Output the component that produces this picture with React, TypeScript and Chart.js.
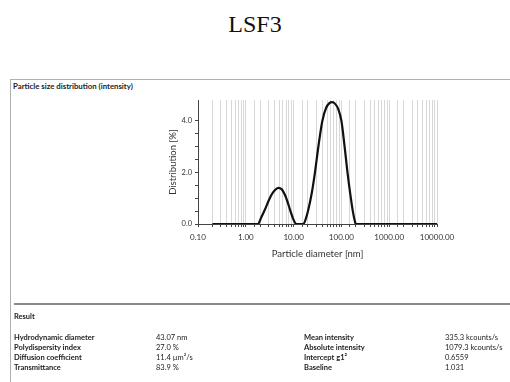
import React, { useEffect, useRef } from 'react';
import { Chart, registerables } from 'chart.js';

Chart.register(...registerables);

const diameters = [0.2, 0.5, 1.0, 1.5, 1.8, 2.1, 2.5, 3.0, 3.5, 4.0, 4.8, 5.6, 6.5, 7.5, 8.6, 9.8, 11, 12, 14, 16, 18, 20, 24, 28, 33, 40, 48, 56, 64, 74, 86, 100, 115, 134, 155, 175, 195, 200, 500, 2000, 10000];
const distribution = [0, 0, 0, 0, 0, 0.25, 0.55, 0.9, 1.15, 1.3, 1.4, 1.35, 1.15, 0.85, 0.5, 0.2, 0.02, 0, 0, 0, 0.2, 0.5, 1.2, 2.0, 3.0, 4.0, 4.5, 4.68, 4.72, 4.65, 4.45, 4.0, 3.1, 2.0, 1.1, 0.45, 0.05, 0, 0, 0, 0];

const xTickLabels = ['0.10', '1.00', '10.00', '100.00', '1000.00', '10000.00'];
const yTickLabels = ['0.0', '2.0', '4.0'];

const chartTitle = 'LSF3';
const panelTitle = 'Particle size distribution (intensity)';
const xTitle = 'Particle diameter [nm]';
const yTitle = 'Distribution [%]';

const resultLabelsLeft = ['Hydrodynamic diameter', 'Polydispersity index', 'Diffusion coefficient', 'Transmittance'];
const resultValuesLeft = ['43.07 nm', '27.0 %', '11.4 µm²/s', '83.9 %'];
const resultLabelsRight = ['Mean intensity', 'Absolute intensity', 'Intercept g1²', 'Baseline'];
const resultValuesRight = ['335.3 kcounts/s', '1079.3 kcounts/s', '0.6559', '1.031'];

const reportFont = 'Lato, "Open Sans", sans-serif';

const isMultiple = (v: number, step: number) => {
  const n = v / step;
  return Math.abs(n - Math.round(n)) < 1e-6;
};

export default function App() {
  const ref = useRef<HTMLCanvasElement | null>(null);

  useEffect(() => {
    if (!ref.current) return;
    const chart = new Chart(ref.current, {
      type: 'line',
      data: {
        datasets: [
          {
            data: diameters.map((d, i) => ({ x: d, y: distribution[i] })),
            borderColor: '#111',
            borderWidth: 2.2,
            pointRadius: 0,
            cubicInterpolationMode: 'monotone',
            fill: false,
          },
        ],
      },
      options: {
        animation: false,
        responsive: false,
        maintainAspectRatio: false,
        layout: { padding: { left: 163, right: 73, top: 100, bottom: 118 } },
        plugins: { legend: { display: false }, tooltip: { enabled: false } },
        scales: {
          x: {
            type: 'logarithmic',
            min: 0.1,
            max: 10000,
            afterFit: (s: any) => { s.height = 40; },
            border: { color: '#444', width: 1 },
            grid: {
              color: (ctx: any) => (ctx.index === 0 ? 'rgba(0,0,0,0)' : '#d8d8d8'),
              tickColor: '#444',
              tickLength: 3,
              lineWidth: 1,
            },
            ticks: {
              autoSkip: false,
              maxRotation: 0,
              padding: 6,
              color: '#333',
              font: { family: reportFont, size: 8 },
              callback: (v: any) => {
                const l = Math.log10(Number(v));
                if (Math.abs(l - Math.round(l)) < 1e-6) {
                  const i = Math.round(l) + 1;
                  return xTickLabels[i] ?? '';
                }
                return '';
              },
            },
            title: {
              display: true,
              text: xTitle,
              color: '#333',
              font: { family: reportFont, size: 9.5 },
              padding: { top: 2, bottom: 4 },
            },
          },
          y: {
            type: 'linear',
            min: 0,
            max: 4.8,
            afterFit: (s: any) => { s.width = 35; },
            border: { color: '#444', width: 1 },
            grid: {
              drawOnChartArea: false,
              tickColor: (ctx: any) => (ctx.tick && isMultiple(ctx.tick.value, 0.5) ? '#444' : 'rgba(0,0,0,0)'),
              tickLength: 3,
            },
            ticks: {
              stepSize: 0.5,
              autoSkip: false,
              padding: 3,
              color: '#333',
              font: { family: reportFont, size: 7.5 },
              callback: (v: any) => {
                const n = Number(v);
                if (isMultiple(n, 2)) return yTickLabels[Math.round(n / 2)] ?? '';
                return '';
              },
            },
            title: {
              display: true,
              text: yTitle,
              color: '#333',
              font: { family: reportFont, size: 9.5 },
              padding: { top: 4, bottom: 2 },
            },
          },
        },
      },
    });
    return () => chart.destroy();
  }, []);

  const rowTops = [333, 343, 353, 363];
  const txt: React.CSSProperties = {
    position: 'absolute',
    fontFamily: reportFont,
    fontSize: 7.5,
    color: '#222',
    whiteSpace: 'nowrap',
    lineHeight: '9px',
  };

  return (
    <div style={{ position: 'absolute', left: 0, top: 0, width: 510, height: 382, overflow: 'hidden', background: '#fff' }}>
      <div style={{ position: 'absolute', left: 0, top: 10, width: 510, textAlign: 'center', fontFamily: '"Liberation Serif", serif', fontSize: 24, lineHeight: '28px', color: '#111' }}>
        {chartTitle}
      </div>
      <div style={{ position: 'absolute', left: 10, top: 79, width: 500, height: 1, background: '#b0b0b0' }} />
      <div style={{ position: 'absolute', left: 10, top: 79, width: 1, height: 303, background: '#b0b0b0' }} />
      <div style={{ ...txt, left: 13, top: 82, fontWeight: 700, fontSize: 7.8 }}>{panelTitle}</div>
      <canvas ref={ref} width={510} height={382} style={{ position: 'absolute', left: 0, top: 0 }} />
      <div style={{ position: 'absolute', left: 14, top: 303, width: 496, height: 2, background: '#8a8a8a' }} />
      <div style={{ ...txt, left: 14, top: 312, fontWeight: 700 }}>Result</div>
      {resultLabelsLeft.map((t, i) => (
        <div key={'ll' + i} style={{ ...txt, left: 14, top: rowTops[i], fontWeight: 700 }}>{t}</div>
      ))}
      {resultValuesLeft.map((t, i) => (
        <div key={'vl' + i} style={{ ...txt, left: 156, top: rowTops[i] }}>{t}</div>
      ))}
      {resultLabelsRight.map((t, i) => (
        <div key={'lr' + i} style={{ ...txt, left: 304, top: rowTops[i], fontWeight: 700 }}>{t}</div>
      ))}
      {resultValuesRight.map((t, i) => (
        <div key={'vr' + i} style={{ ...txt, left: 445, top: rowTops[i] }}>{t}</div>
      ))}
    </div>
  );
}
